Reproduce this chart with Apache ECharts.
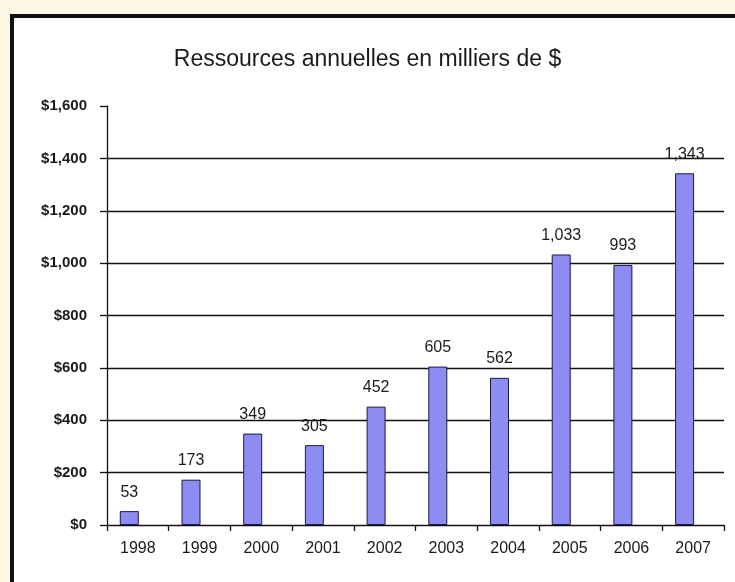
<!DOCTYPE html>
<html>
<head>
<meta charset="utf-8">
<script src="https://cdn.jsdelivr.net/npm/echarts@6/dist/echarts.min.js"></script>
<style>
html,body{margin:0;padding:0;background:#fcf8e3;}
#c{width:735px;height:582px;}
</style>
</head>
<body>
<div id="c"></div>
<script>
const titleText = 'Ressources annuelles en milliers de $';
const years = ['1998','1999','2000','2001','2002','2003','2004','2005','2006','2007'];
const resources = [53, 173, 349, 305, 452, 605, 562, 1033, 993, 1343];
const spacer = [null, null, null, null, null, null, null, null, null, null];

const chart = echarts.init(document.getElementById('c'), null, {renderer: 'canvas'});
const font = '"Liberation Sans", Arial, sans-serif';
chart.setOption({
  backgroundColor: '#fcf8e3',
  animation: false,
  graphic: [{
    type: 'rect', z: -10, silent: true,
    shape: {x: 12, y: 16, width: 780, height: 620},
    style: {fill: '#ffffff', stroke: '#111111', lineWidth: 4}
  }],
  title: {
    text: titleText, left: 'center', top: 43,
    textStyle: {fontFamily: font, fontSize: 23, fontWeight: 'normal', color: '#1a1a1a'}
  },
  grid: {left: 107, right: 11, top: 106, bottom: 57, containLabel: false},
  xAxis: {
    type: 'category', data: years,
    axisLine: {lineStyle: {color: '#111', width: 1.3}},
    axisTick: {show: true, length: 6, alignWithLabel: false, lineStyle: {color: '#111', width: 1.3}},
    axisLabel: {margin: 16, fontFamily: font, fontSize: 16, color: '#1a1a1a'}
  },
  yAxis: {
    type: 'value', min: 0, max: 1600, interval: 200,
    axisLine: {show: true, lineStyle: {color: '#111', width: 1.3}},
    axisTick: {show: true, length: 7, lineStyle: {color: '#111', width: 1.3}},
    splitLine: {show: true, showMinLine: false, showMaxLine: false, lineStyle: {color: '#111', width: 1.3}},
    axisLabel: {
      margin: 20, fontFamily: font, fontSize: 15, fontWeight: 'bold', color: '#1a1a1a',
      formatter: v => '$' + v.toLocaleString('en-US')
    }
  },
  series: [{
    type: 'bar', data: resources, barWidth: 19, barGap: '-10%',
    itemStyle: {color: '#8c8cf3', borderColor: '#1a1a48', borderWidth: 1},
    label: {
      show: true, position: 'top', distance: 11,
      fontFamily: font, fontSize: 16, color: '#1a1a1a',
      formatter: p => p.value.toLocaleString('en-US')
    }
  }, {
    type: 'bar', data: spacer, barWidth: 19, silent: true,
    itemStyle: {color: 'transparent'}
  }]
});
</script>
</body>
</html>
